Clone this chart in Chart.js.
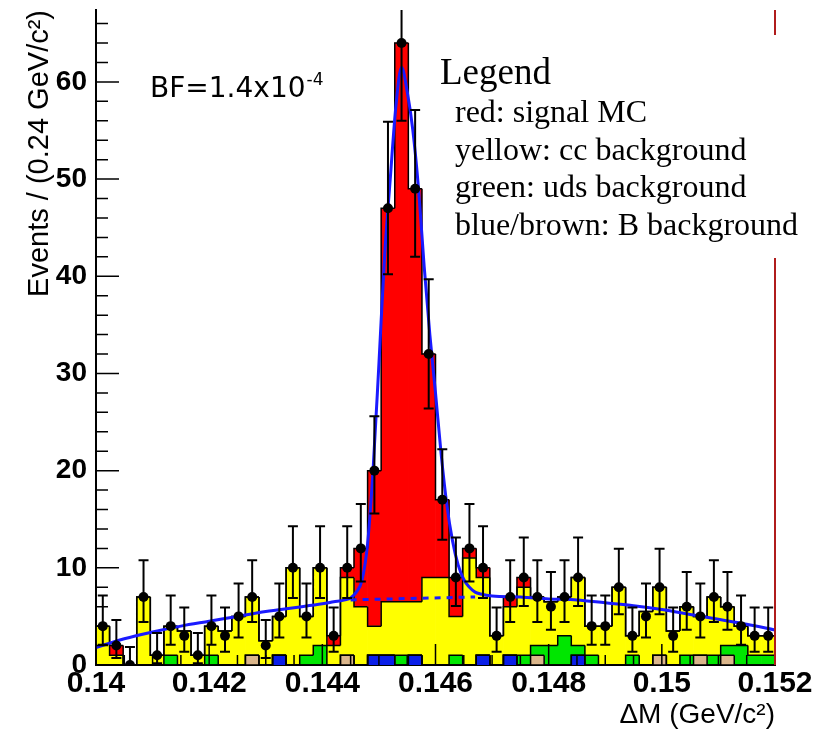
<!DOCTYPE html>
<html>
<head>
<meta charset="utf-8">
<script src="https://cdn.jsdelivr.net/npm/chart.js@4.4.1/dist/chart.umd.min.js"></script>
<style>
  html, body { margin: 0; padding: 0; background: #fff; }
  #wrap { position: relative; width: 827px; height: 733px; }
</style>
</head>
<body>
<div id="wrap"><canvas id="c" width="827" height="733"></canvas></div>
<script>
// ------------------------------------------------------------
// Delta M distribution, 50 bins of 0.24 MeV from 0.140 to 0.152
// ------------------------------------------------------------
const BIN_START = 0.14;
const BIN_WIDTH = 0.00024;

// data points (events per bin) and their error bar ends
const dataCounts = [4,2,0,7,1,4,3,1,4,3, 5,7,2,5,10,5,10,3,10,12,
                    20,47,64,49,32,17,9,12,10,3, 7,9,7,6,7,9,4,4,8,3,
                    5,8,3,6,5,7,6,4,3,3];
const errLow  = [2.09,0.71,0,4.42,0.17,2.09,1.37,0.17,2.09,1.37,
                 2.84,4.42,0.71,2.84,6.89,2.84,6.89,1.37,6.89,8.58,
                 15.6,40.2,56.0,42.0,26.4,12.9,6.06,8.58,6.89,1.37,
                 4.42,6.06,4.42,3.62,4.42,6.06,2.09,2.09,5.23,1.37,
                 2.84,5.23,1.37,3.62,2.84,4.42,3.62,2.09,1.37,1.37];
const errHigh = [7.16,4.64,1.84,10.77,3.30,7.16,5.92,3.30,7.16,5.92,
                 8.38,10.77,4.64,8.38,14.27,8.38,14.27,5.92,14.27,16.57,
                 25.6,55.9,73.0,57.1,39.7,22.2,13.11,16.57,14.27,5.92,
                 10.77,13.11,10.77,9.58,10.77,13.11,7.16,7.16,11.95,5.92,
                 8.38,11.95,5.92,9.58,8.38,10.77,9.58,7.16,5.92,5.92];

// MC stack, bottom to top
const bBlue     = [0,0,0,0,0,0,0,0,0,0, 0,0,0,1,0,0,0,0,0,0, 1,1,0,1,0,0,0,0,1,0,
                   1,0,0,0,0,1,0,0,0,0, 0,0,0,0,0,0,0,0,0,0];
const bBrown    = [0,0,0,0,0,0,0,0,0,0, 0,1,0,0,0,0,0,0,1,0, 0,0,0,0,0,0,0,0,0,0,
                   0,0,1,0,0,0,0,0,0,0, 0,1,0,0,1,0,1,0,0,0];
const udsGreen  = [0,0,0,0,0,1,0,0,1,0, 0,0,0,0,0,1,2,0,0,0, 0,0,1,0,0,0,1,0,0,0,
                   0,1,1,2,3,1,1,0,0,1, 0,0,0,1,0,1,1,2,1,1];
const ccYellow  = [4,1,0,7,1,3,3.5,1,3,3.5, 5,6,2.5,4,10,4,8,2,8,6,
                   3,5.5,5.5,5.5,9,9,4,11,8,3, 5,7,5,4.5,4,7,3,4,8,2,
                   5.5,7,3.5,5,4,6,4,2,2,2];
const signalRed = [0,1,0,0,0,0,0,0,0,0, 0,0,0,0,0,0,0,1,1,6,
                   16,40.5,57.5,42.5,23,8,4,1,1,0, 1,1,0,0,0,0,0,0,0,0,
                   0,0,0,0,0,0,0,0,0,0];

// fitted curve (signal + background)
const fitX = [0.1400,0.1405,0.1410,0.1415,0.1420,0.1425,0.1430,0.1435,0.1440,0.1442,
              0.1444,0.1445,0.1446,0.1447,0.1448,0.1449,0.1450,0.1451,0.1452,0.1453,
              0.1454,0.1455,0.1456,0.1457,0.1458,0.1459,0.1460,0.1461,0.1462,0.1463,
              0.1464,0.1465,0.1466,0.1467,0.1468,0.1470,0.1475,0.1480,0.1485,0.1490,
              0.1495,0.1500,0.1505,0.1510,0.1515,0.1520];
const fitY = [1.8,2.7,3.4,4.0,4.5,5.0,5.5,5.9,6.3,6.5,
              6.7,6.9,7.5,8.7,12.5,20.4,31,42,50,57.5,
              61.5,59,55,49,41,34,28,21.7,16.5,12.8,
              10.3,8.8,8.0,7.5,7.3,7.1,7.0,6.8,6.7,6.4,
              6.1,5.7,5.2,4.7,4.2,3.6];
// background part under the peak (dashed)
const bkgX = [0.1445, 0.1467];
const bkgY = [6.7, 7.0];

const xTickStep = 0.002;
const yTickStep = 10;

// ------------------------------------------------------------
const stackLayers = [bBlue, bBrown, udsGreen, ccYellow, signalRed];
const layerNames  = ['B background', 'B background', 'uds background', 'cc background', 'signal MC'];
const layerColors = ['#0a1ee8', '#dbb68b', '#00e600', '#ffff00', '#ff0000'];

const binCenters = dataCounts.map((_, i) => BIN_START + (i + 0.5) * BIN_WIDTH);

Chart.defaults.font.family = '"Liberation Sans", Arial, sans-serif';
Chart.defaults.color = '#000';

// ROOT style decorations: step outlines, inward ticks, error bars, text
const rootStyle = {
  id: 'rootStyle',
  afterDatasetDraw(chart, args) {
    // outlines once the bottom MC layer (drawn last) is done
    if (args.meta.type !== 'bar' || args.index !== 0) return;
    const { ctx, scales: { x, y } } = chart;
    const base = y.getPixelForValue(0);
    const cum = new Array(dataCounts.length).fill(0);
    ctx.save();
    ctx.strokeStyle = '#000';
    ctx.lineWidth = 1.5;
    stackLayers.forEach(layer => {
      layer.forEach((v, i) => { cum[i] += v; });
      ctx.beginPath();
      let prev = base;
      cum.forEach((v, i) => {
        const l = x.getPixelForValue(BIN_START + i * BIN_WIDTH);
        const r = x.getPixelForValue(BIN_START + (i + 1) * BIN_WIDTH);
        const t = y.getPixelForValue(v);
        ctx.moveTo(l, prev); ctx.lineTo(l, t); ctx.lineTo(r, t);
        prev = t;
      });
      const rEnd = x.getPixelForValue(BIN_START + cum.length * BIN_WIDTH);
      ctx.lineTo(rEnd, base);
      ctx.stroke();
    });
    ctx.restore();
  },
  afterDatasetsDraw(chart) {
    const { ctx, chartArea: a, scales: { x, y } } = chart;
    ctx.save();

    // error bars
    ctx.beginPath();
    ctx.rect(a.left, a.top, a.right - a.left, a.bottom - a.top);
    ctx.clip();
    ctx.strokeStyle = '#000';
    ctx.lineWidth = 2;
    dataCounts.forEach((n, i) => {
      const px = x.getPixelForValue(binCenters[i]);
      const lo = y.getPixelForValue(errLow[i]);
      const hi = y.getPixelForValue(errHigh[i]);
      ctx.beginPath();
      ctx.moveTo(px, lo); ctx.lineTo(px, hi);
      ctx.moveTo(px - 5, lo); ctx.lineTo(px + 5, lo);
      ctx.moveTo(px - 5, hi); ctx.lineTo(px + 5, hi);
      ctx.stroke();
    });
    ctx.restore();

    ctx.save();
    // inward ticks
    ctx.strokeStyle = '#000';
    ctx.lineWidth = 1.5;
    ctx.beginPath();
    for (let k = 0; k <= 33; k++) {
      const py = y.getPixelForValue(k * 2);
      const len = k % 5 === 0 ? 23 : 12;
      ctx.moveTo(a.left, py); ctx.lineTo(a.left + len, py);
    }
    for (let k = 0; k <= 24; k++) {
      const px = x.getPixelForValue(0.14 + k * 0.0005);
      const len = k % 4 === 0 ? 21 : 10;
      ctx.moveTo(px, a.bottom); ctx.lineTo(px, a.bottom - len);
    }
    ctx.stroke();

    // right edge line
    const xr = x.getPixelForValue(0.152);
    ctx.strokeStyle = '#b01c1c';
    ctx.lineWidth = 2;
    ctx.beginPath();
    ctx.moveTo(xr, a.top); ctx.lineTo(xr, 35);
    ctx.moveTo(xr, 258); ctx.lineTo(xr, a.bottom);
    ctx.stroke();

    // BF label
    ctx.fillStyle = '#000';
    ctx.textBaseline = 'alphabetic';
    ctx.font = '28px "DejaVu Sans"';
    ctx.fillText('BF=1.4x10', 150, 97);
    const w = ctx.measureText('BF=1.4x10').width;
    ctx.font = '17px "DejaVu Sans"';
    ctx.fillText('-4', 150 + w + 1, 85);

    // pasted legend text
    ctx.font = '37px "Liberation Serif"';
    ctx.fillText('Legend', 440, 84);
    ctx.font = '32px "Liberation Serif"';
    const lines = ['red: signal MC', 'yellow: cc background', 'green: uds background', 'blue/brown: B background'];
    const base = [122, 160, 197, 235];
    lines.forEach((t, i) => ctx.fillText(t, 455, base[i]));
    ctx.restore();
  }
};

new Chart(document.getElementById('c'), {
  type: 'bar',
  data: {
    datasets: [
      ...stackLayers.map((layer, k) => ({
        type: 'bar',
        label: layerNames[k],
        data: layer.map((v, i) => ({ x: binCenters[i], y: v || null })),
        backgroundColor: layerColors[k],
        borderWidth: 0,
        barPercentage: 1,
        categoryPercentage: 1,
        stack: 'mc',
        order: 10 + k
      })),
      {
        type: 'line',
        label: 'fit',
        data: fitX.map((v, i) => ({ x: v, y: fitY[i] })),
        borderColor: '#1a1aff',
        borderWidth: 3,
        pointRadius: 0,
        cubicInterpolationMode: 'monotone',
        stack: 'fit',
        order: 3
      },
      {
        type: 'line',
        label: 'background',
        data: bkgX.map((v, i) => ({ x: v, y: bkgY[i] })),
        borderColor: '#1a1aff',
        borderWidth: 3,
        borderDash: [6, 6],
        pointRadius: 0,
        stack: 'bkg',
        order: 2
      },
      {
        type: 'scatter',
        label: 'data',
        data: dataCounts.map((n, i) => ({ x: binCenters[i], y: n })),
        pointRadius: 5,
        pointBackgroundColor: '#000',
        pointBorderWidth: 0,
        stack: 'data',
        order: 1
      }
    ]
  },
  options: {
    responsive: false,
    animation: false,
    layout: { padding: { left: 0, right: 52, top: 10, bottom: 0 } },
    plugins: { legend: { display: false }, tooltip: { enabled: false } },
    scales: {
      x: {
        type: 'linear',
        min: 0.14,
        max: 0.152,
        offset: false,
        stacked: true,
        grid: { display: false, drawTicks: false, offset: false },
        border: { display: true, color: '#000', width: 2 },
        ticks: {
          stepSize: xTickStep,
          padding: 1,
          maxRotation: 0,
          autoSkip: false,
          font: { size: 30, weight: 'bold' },
          callback: v => String(parseFloat(v.toFixed(3)))
        },
        title: {
          display: true,
          text: '\u0394M (GeV/c\u00b2)',
          align: 'end',
          font: { size: 28 },
          padding: { top: 0, bottom: 1 }
        },
        afterFit: s => { s.height = 68; s.paddingLeft = 0; s.paddingRight = 0; }
      },
      y: {
        min: 0,
        max: 67.4,
        stacked: true,
        grid: { display: false, drawTicks: false },
        border: { display: true, color: '#000', width: 2 },
        ticks: {
          stepSize: yTickStep,
          includeBounds: false,
          padding: 9,
          font: { size: 28, weight: 'bold' }
        },
        title: {
          display: true,
          text: 'Events / (0.24 GeV/c\u00b2)',
          align: 'end',
          font: { size: 29 },
          padding: { top: 23, bottom: 0 }
        },
        afterFit: s => { s.width = 96; s.paddingTop = 0; s.paddingBottom = 0; }
      }
    }
  },
  plugins: [rootStyle]
});
</script>
</body>
</html>
